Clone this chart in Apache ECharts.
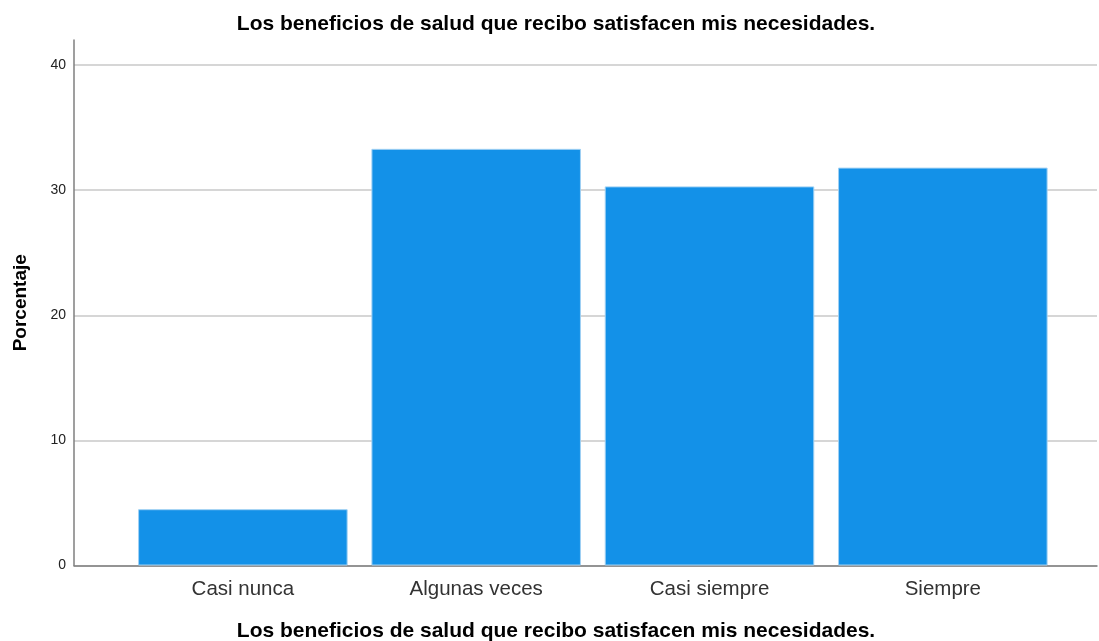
<!DOCTYPE html>
<html>
<head>
<meta charset="utf-8">
<script src="https://cdn.jsdelivr.net/npm/echarts@6/dist/echarts.min.js"></script>
<style>
  html, body { margin: 0; padding: 0; background: #fff; }
  #chart { width: 1099px; height: 641px; }
</style>
</head>
<body>
<div id="chart"></div>
<script>
// 数据
const categories = ["Casi nunca", "Algunas veces", "Casi siempre", "Siempre"];
const percentages = [4.5, 33.3, 30.3, 31.8];
const yTicks = [0, 10, 20, 30, 40];

const chartTitle = "Los beneficios de salud que recibo satisfacen mis necesidades.";
const font = "'Liberation Sans', Arial, sans-serif";

const chart = echarts.init(document.getElementById("chart"), null, { renderer: "canvas" });

const option = {
  backgroundColor: "#ffffff",
  animation: false,
  title: [
    {
      text: chartTitle,
      left: 551,
      top: 9,
      textAlign: "center",
      textStyle: { fontFamily: font, fontSize: 21, fontWeight: "bold", color: "#000" },
    },
    {
      // x轴标题
      text: chartTitle,
      left: 551,
      top: 616,
      textAlign: "center",
      textStyle: { fontFamily: font, fontSize: 21, fontWeight: "bold", color: "#000" },
    },
  ],
  grid: [
    // 坐标轴和网格线
    { left: 74, right: 2, top: 40, bottom: 75.5 },
    // 柱子
    { left: 126.2, right: 39.5, top: 40, bottom: 75.5 },
  ],
  xAxis: [
    {
      type: "value",
      gridIndex: 0,
      min: 0,
      max: 1,
      axisLine: { show: true, onZero: false, lineStyle: { color: "#7f7f7f", width: 1.5 } },
      axisTick: { show: false },
      axisLabel: { show: false },
      splitLine: { show: false },
    },
    {
      type: "category",
      gridIndex: 1,
      data: categories,
      axisLine: { show: false },
      axisTick: { show: false },
      axisLabel: { fontFamily: font, fontSize: 20.5, color: "#333", margin: 13 },
    },
  ],
  yAxis: [
    {
      type: "value",
      gridIndex: 0,
      min: 0,
      max: 42,
      interval: 10,
      name: "Porcentaje",
      nameLocation: "middle",
      nameRotate: 90,
      nameGap: 44,
      nameTextStyle: { fontFamily: font, fontSize: 19, fontWeight: "bold", color: "#000" },
      axisLine: { show: true, lineStyle: { color: "#7f7f7f", width: 1.5 } },
      axisTick: { show: false },
      axisLabel: {
        fontFamily: font,
        fontSize: 14,
        color: "#222",
        margin: 8,
        showMaxLabel: false,
        formatter: (v) => (yTicks.includes(v) ? String(v) : ""),
      },
      splitLine: { showMaxLine: false, lineStyle: { color: "#c8c8c8", width: 1.5 } },
    },
    {
      type: "value",
      gridIndex: 1,
      min: 0,
      max: 42,
      interval: 10,
      axisLine: { show: false },
      axisTick: { show: false },
      axisLabel: { show: false },
      splitLine: { show: false },
    },
  ],
  series: [
    {
      type: "bar",
      xAxisIndex: 1,
      yAxisIndex: 1,
      data: percentages,
      barWidth: "89.8%",
      itemStyle: {
        color: "#1391e8",
        borderColor: "#9fd0f3",
        borderWidth: 1,
      },
    },
  ],
};

chart.setOption(option);
</script>
</body>
</html>
